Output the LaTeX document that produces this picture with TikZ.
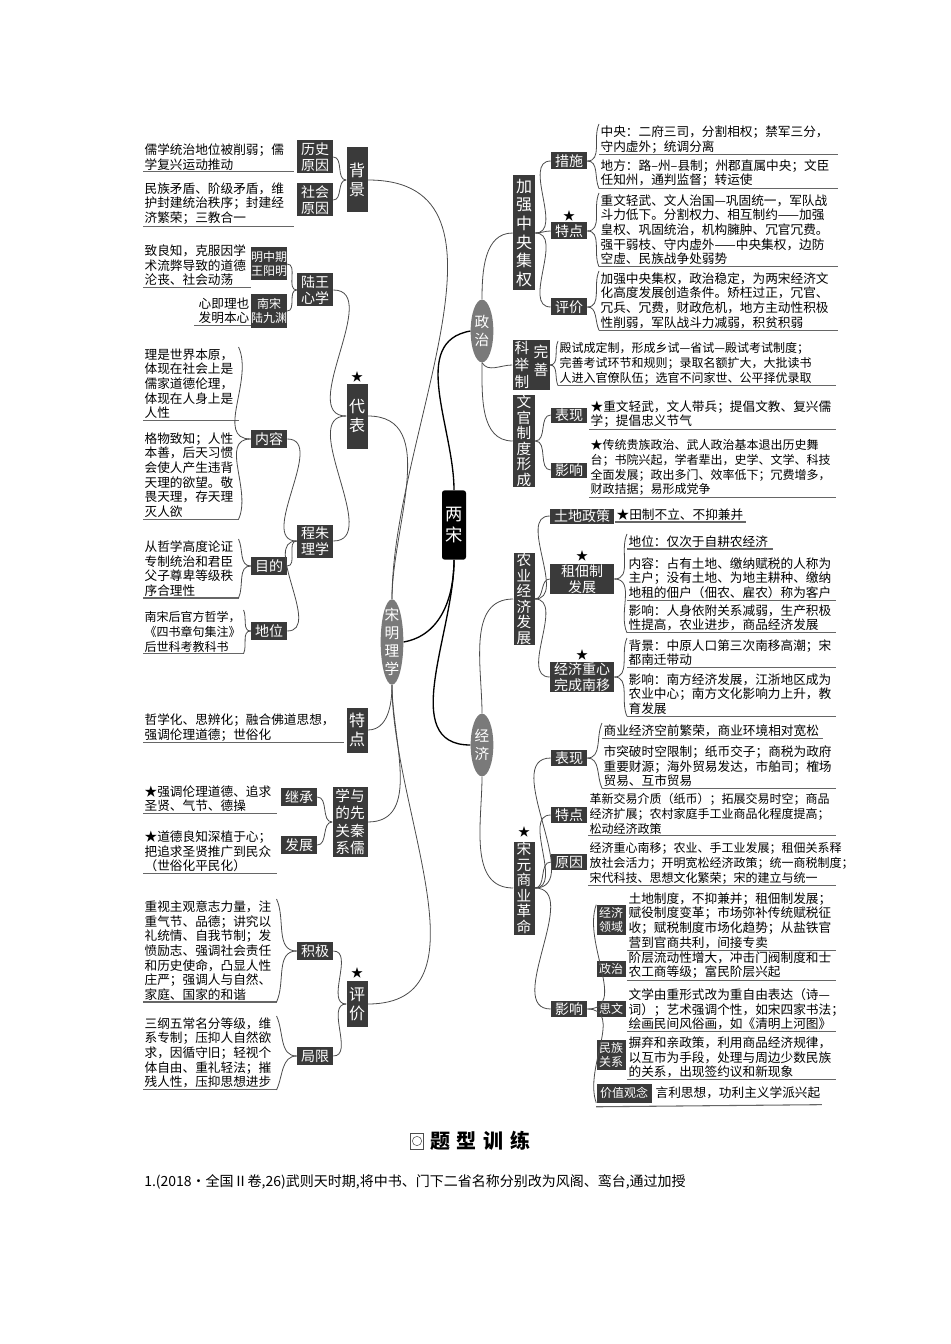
\documentclass[tikz,border=0pt]{standalone}
\usepackage{fontspec}
\usetikzlibrary{shapes.geometric}
\newfontfamily\cjk{Noto Sans CJK SC}
\newcommand\ft{\cjk\fontsize{9.5}{11}\selectfont}
\newcommand\fs{\cjk\fontsize{9}{11}\selectfont}
\newcommand\fb{\cjk\fontsize{10.5}{12}\selectfont}
\newcommand\fm{\cjk\fontsize{9}{10.5}\selectfont}
\newcommand\fv{\cjk\fontsize{12}{14}\selectfont}
\newcommand\fw{\cjk\fontsize{11}{11.6}\selectfont}
\definecolor{boxc}{HTML}{3A3A3A}
\definecolor{ovalc}{HTML}{7A7A7A}
\definecolor{linec}{HTML}{4A4A4A}
\tikzset{
  ulc/.style={draw=black!60, line width=0.8pt},
  ul/.style={append after command={(\tikzlastnode.south west) edge[ulc] (\tikzlastnode.south east)}},
  tx/.code={\pgfmathsetmacro\twd{#1*0.75-2}\edef\tmp{\noexpand\tikzset{text width=\twd pt}}\tmp
    \tikzset{font=\ft, align=left, inner sep=1pt, anchor=north west, ul}},
  db/.style={fill=boxc, text=white, inner sep=0pt, font=\fb, align=center},
  bs/.style 2 args={db, minimum width=#1*0.75pt, minimum height=#2*0.75pt},
  oval/.style={ellipse, fill=ovalc, inner sep=0pt},
  ovt/.style={text=white, font=\cjk\fontsize{11}{13.5}\selectfont, align=center, inner sep=0pt},
  conn/.style={draw=linec, line width=0.6pt},
  mconn/.style={draw=black, line width=1pt},
  star/.style={font=\cjk\fontsize{9}{9}\selectfont, inner sep=0pt}
}
\newcommand\cnr[2]{\draw[conn] (#1.east) to[out=0,in=180] (#2.west);}
\newcommand\cnl[2]{\draw[conn] (#1.west) to[out=180,in=0] (#2.east);}
\newcommand\rbr[3]{\draw[conn] (#1.east) to[out=0,in=-115] (#2.north west); \draw[conn] (#1.east) to[out=0,in=115] (#3.south west);}
\newcommand\lbr[3]{\draw[conn] (#1.west) to[out=180,in=-65] (#2.north east); \draw[conn] (#1.west) to[out=180,in=65] (#3.south east);}
\begin{document}
\begin{tikzpicture}[x=0.75pt,y=-0.75pt]
\path[fill=white] (0,0) rectangle (950,1344);
\useasboundingbox (0,0) rectangle (950,1344);
% ===== center =====
\node[fill=black, rounded corners=2pt, text=white, font=\cjk\fontsize{13}{16}\selectfont, align=center, minimum width=18pt, minimum height=52pt, inner sep=0pt] (ls) at (454,525) {两\\宋};
\node[oval, minimum width=17pt, minimum height=64pt] (sm) at (392,642) {};
\node[ovt] (smt) at (sm) {宋\\明\\理\\学};
\node[oval, minimum width=17pt, minimum height=47pt] (zz) at (482,331) {};
\node[ovt] (zzt) at (zz) {政\\治};
\node[oval, minimum width=17pt, minimum height=47pt] (jo) at (482,745) {};
\node[ovt] (jot) at (jo) {经\\济};
\draw[mconn] (ls.south) to[out=-90,in=10] (sm.east);
\draw[mconn] (ls.north) to[out=90,in=190] (zz.west);
\draw[mconn] (ls.south) to[out=-90,in=180] (jo.west);
% ===== left =====
\node[bs={21}{65}, font=\fv] (bj) at (357,180) {背\\景};
\node[bs={36}{33}] (lsyy) at (315,157) {历史\\原因};
\node[bs={36}{33}] (shyy) at (315,200) {社会\\原因};
\node[tx=150] (t1) at (143,142) {儒学统治地位被削弱；儒\\学复兴运动推动};
\node[tx=150] (t2) at (143,181) {民族矛盾、阶级矛盾，维\\护封建统治秩序；封建经\\济繁荣；三教合一};
\node[bs={36}{33}, font=\fm] (wym) at (269,264) {明中期\\王阳明};
\node[bs={36}{33}, font=\fm] (ljy) at (269,311) {南宋\\陆九渊};
\node[tx=107] (t3) at (143,243) {致良知，克服因学\\术流弊导致的道德\\沦丧、社会动荡};
\node[tx=56, align=right, anchor=north east] (t4) at (251,296) {心即理也\\发明本心};
\node[bs={36}{33}] (lw) at (315,290) {陆王\\心学};
\node[bs={21}{65}, font=\fv] (dbx) at (357,416) {代\\表};
\node[star] (s1) at (357,377) {★};
\node[bs={36}{18}] (nr) at (269,439) {内容};
\node[tx=95] (t5) at (143,347) {理是世界本原，\\体现在社会上是\\儒家道德伦理，\\体现在人身上是\\人性};
\node[tx=95] (t6) at (143,431) {格物致知；人性\\本善，后天习惯\\会使人产生违背\\天理的欲望。敬\\畏天理，存天理\\灭人欲};
\node[bs={36}{33}] (cz) at (315,541) {程朱\\理学};
\node[bs={36}{18}] (md) at (269,566) {目的};
\node[tx=95] (t7) at (143,539) {从哲学高度论证\\专制统治和君臣\\父子尊卑等级秩\\序合理性};
\node[bs={36}{18}] (dw) at (269,631) {地位};
\node[tx=100, font=\fs] (t8) at (143,610) {南宋后官方哲学，\\《四书章句集注》\\后世科考教科书};
\node[bs={21}{45}, font=\fv] (tdl) at (357,730) {特\\点};
\node[tx=200] (t9) at (143,712) {哲学化、思辨化；融合佛道思想，\\强调伦理道德；世俗化};
\node[bs={35}{70}, font=\cjk\fontsize{11}{13}\selectfont] (gx) at (350,822) {学与\\的先\\关秦\\系儒};
\node[bs={36}{18}] (jc) at (299,797) {继承};
\node[bs={36}{18}] (fz) at (299,845) {发展};
\node[tx=133] (t10) at (143,784) {★强调伦理道德、追求\\圣贤、气节、德操};
\node[tx=133] (t11) at (143,829) {★道德良知深植于心；\\把追求圣贤推广到民众\\（世俗化平民化）};
\node[bs={21}{46}, font=\fv] (pjl) at (357,1004) {评\\价};
\node[star] (s2) at (357,973) {★};
\node[bs={36}{18}] (jj) at (315,951) {积极};
\node[bs={36}{18}] (jx) at (315,1056) {局限};
\node[tx=133] (t12) at (143,899) {重视主观意志力量，注\\重气节、品德；讲究以\\礼统情、自我节制；发\\愤励志、强调社会责任\\和历史使命，凸显人性\\庄严；强调人与自然、\\家庭、国家的和谐};
\node[tx=133] (t13) at (143,1016) {三纲五常名分等级，维\\系专制；压抑人自然欲\\求，因循守旧；轻视个\\体自由、重礼轻法；摧\\残人性，压抑思想进步};
% left connectors
\draw[conn] (sm.north) to[out=90,in=0] (bj.east);
\draw[conn] (sm.north) to[out=90,in=0] (dbx.east);
\draw[conn] (sm.south) to[out=-90,in=0] (tdl.east);
\draw[conn] (sm.south) to[out=-90,in=0] (gx.east);
\draw[conn] (sm.south) to[out=-90,in=0] (pjl.east);
\cnl{bj}{lsyy} \cnl{bj}{shyy}
\cnl{dbx}{lw} \cnl{dbx}{cz}
\cnl{lw}{wym} \cnl{lw}{ljy}
\cnl{cz}{nr} \cnl{cz}{md} \cnl{cz}{dw}
\lbr{nr}{t5}{t6} \lbr{md}{t7}{t7} \lbr{dw}{t8}{t8}
\cnl{gx}{jc} \cnl{gx}{fz}
\cnl{pjl}{jj} \cnl{pjl}{jx}
\lbr{jj}{t12}{t12} \lbr{jx}{t13}{t13}
% ===== right: politics =====
\node[bs={22}{115}, font=\fv] (jq) at (524,233) {加\\强\\中\\央\\集\\权};
\node[bs={36}{17}] (cs) at (569,161) {措施};
\node[bs={36}{17}] (tdr) at (569,231) {特点};
\node[star] (s3) at (569,216) {★};
\node[bs={36}{17}] (pjr) at (569,307) {评价};
\node[tx=238] (r1) at (599,124) {中央：二府三司，分割相权；禁军三分，\\守内虚外；统调分离};
\node[tx=238] (r2) at (599,158) {地方：路–州–县制；州郡直属中央；文臣\\任知州，通判监督；转运使};
\node[tx=238] (r3) at (599,193) {重文轻武、文人治国—巩固统一，军队战\\斗力低下。分割权力、相互制约——加强\\皇权、巩固统治，机构臃肿、冗官冗费。\\强干弱枝、守内虚外——中央集权，边防\\空虚、民族战争处弱势};
\node[tx=238] (r4) at (599,271) {加强中央集权，政治稳定，为两宋经济文\\化高度发展创造条件。矫枉过正，冗官、\\冗兵、冗费，财政危机，地方主动性积极\\性削弱，军队战斗力减弱，积贫积弱};
\node[bs={37}{50}] (kj) at (531,365) {};
\node[font=\cjk\fontsize{11}{13}\selectfont, text=white, align=center, inner sep=0pt] (kj1) at (522,365) {科\\举\\制};
\node[font=\cjk\fontsize{11}{13}\selectfont, text=white, align=center, inner sep=0pt] (kj2) at (541,361) {完\\善};
\node[tx=277, font=\fs] (r5) at (558,341) {殿试成定制，形成乡试—省试—殿试考试制度；\\完善考试环节和规则；录取名额扩大，大批读书\\人进入官僚队伍；选官不问家世、公平择优录取};
\node[bs={22}{87}, font=\fw] (wg) at (524,441) {文\\官\\制\\度\\形\\成};
\node[bs={36}{15}] (bx) at (569,415) {表现};
\node[bs={36}{15}] (yx) at (569,470) {影响};
\node[tx=246] (r6) at (589,399) {★重文轻武，文人带兵；提倡文教、复兴儒\\学；提倡忠义节气};
\node[tx=246, font=\fs] (r7) at (589,438) {★传统贵族政治、武人政治基本退出历史舞\\台；书院兴起，学者辈出，史学、文学、科技\\全面发展；政出多门、效率低下；冗费增多，\\财政拮据；易形成党争};
\draw[conn] (zz.north) to[out=90,in=180] (jq.west);
\draw[conn] (zz.south) to[out=-60,in=180] (kj.west);
\draw[conn] (zz.south) to[out=-90,in=180] (wg.west);
\cnr{jq}{cs} \cnr{jq}{tdr} \cnr{jq}{pjr}
\rbr{cs}{r1}{r2} \rbr{tdr}{r3}{r3} \rbr{pjr}{r4}{r4}
\rbr{kj}{r5}{r5}
\cnr{wg}{bx} \cnr{wg}{yx}
% ===== right: economy =====
\node[bs={21}{92}, font=\fw] (ny) at (524,599) {农\\业\\经\\济\\发\\展};
\node[bs={64}{15}] (td) at (582,516) {土地政策};
\node[tx=130] (r8) at (615,507) {★田制不立、不抑兼并};
\node[bs={64}{30}] (zd) at (582,579) {租佃制\\发展};
\node[star] (s4) at (582,556) {★};
\node[tx=145] (r9) at (627,534) {地位：仅次于自耕农经济};
\node[tx=208] (r10) at (627,556) {内容：占有土地、缴纳赋税的人称为\\主户；没有土地、为地主耕种、缴纳\\地租的佃户（佃农、雇农）称为客户};
\node[tx=208] (r11) at (627,603) {影响：人身依附关系减弱，生产积极\\性提高，农业进步，商品经济发展};
\node[bs={64}{30}] (zx) at (582,677) {经济重心\\完成南移};
\node[star] (s5) at (582,655) {★};
\node[tx=208] (r12) at (627,638) {背景：中原人口第三次南移高潮；宋\\都南迁带动};
\node[tx=208] (r13) at (627,672) {影响：南方经济发展，江浙地区成为\\农业中心；南方文化影响力上升，教\\育发展};
\node[bs={21}{93}, font=\fw] (sy) at (524,888) {宋\\元\\商\\业\\革\\命};
\node[star] (s6) at (524,832) {★};
\node[bs={36}{16}] (bxj) at (569,758) {表现};
\node[tx=220] (r14) at (602,723) {商业经济空前繁荣，商业环境相对宽松};
\node[tx=233] (r15) at (602,744) {市突破时空限制；纸币交子；商税为政府\\重要财源；海外贸易发达，市舶司；榷场\\贸易、互市贸易};
\node[bs={36}{16}] (tdj) at (569,815) {特点};
\node[tx=247, font=\fs] (r16) at (588,792) {革新交易介质（纸币）；拓展交易时空；商品\\经济扩展；农村家庭手工业商品化程度提高；\\松动经济政策};
\node[bs={36}{16}] (yy) at (569,862) {原因};
\node[tx=247, font=\fs] (r17) at (588,841) {经济重心南移；农业、手工业发展；租佃关系释\\放社会活力；开明宽松经济政策；统一商税制度；\\宋代科技、思想文化繁荣；宋的建立与统一};
\node[bs={36}{16}] (yxj) at (569,1009) {影响};
\node[bs={29}{30}, font=\fm] (ly) at (611,920) {经济\\领域};
\node[bs={29}{16}, font=\fm] (zzs) at (611,969) {政治};
\node[bs={29}{16}, font=\fm] (sw) at (611,1009) {思文};
\node[bs={29}{30}, font=\fm] (mz) at (611,1055) {民族\\关系};
\node[bs={55}{19}, font=\fm] (jz) at (624,1093) {价值观念};
\node[tx=208] (r18) at (627,891) {土地制度，不抑兼并；租佃制发展；\\赋役制度变革；市场弥补传统赋税征\\收；赋税制度市场化趋势；从盐铁官\\营到官商共利，间接专卖};
\node[tx=208] (r19) at (627,950) {阶层流动性增大，冲击门阀制度和士\\农工商等级；富民阶层兴起};
\node[tx=208] (r20) at (627,987) {文学由重形式改为重自由表达（诗—\\词）；艺术强调个性，如宋四家书法；\\绘画民间风俗画，如《清明上河图》};
\node[tx=208] (r21) at (627,1035) {摒弃和亲政策，利用商品经济规律，\\以互市为手段，处理与周边少数民族\\的关系，出现签约议和新现象};
\node[font=\ft, inner sep=1pt, anchor=west] (r22) at (654,1093) {言利思想，功利主义学派兴起};
\draw[ulc] (jz.south west) ++(0,4) -- ([yshift=-3pt]r22.south east);
\draw[conn] (jo.north) to[out=90,in=180] (ny.west);
\draw[conn] (jo.south) to[out=-90,in=180] (sy.west);
\cnr{ny}{td} \cnr{ny}{zd} \cnr{ny}{zx}
\rbr{zd}{r9}{r11} \rbr{zx}{r12}{r13}
\cnr{sy}{bxj} \cnr{sy}{tdj} \cnr{sy}{yy} \cnr{sy}{yxj}
\rbr{bxj}{r14}{r15}
\draw[conn] (yxj.east) to[out=0,in=-110] (ly.north west);
\draw[conn] (yxj.east) to[out=0,in=110] (jz.south west);
% ===== bottom =====
\node[draw=black!70, line width=0.6pt, minimum width=10pt, minimum height=12pt, inner sep=0pt] (ic) at (417,1141) {};
\node[draw=black!70, circle, minimum size=7pt, inner sep=0pt] (icc) at (ic) {};
\node[font=\cjk\fontsize{15}{16}\selectfont\bfseries, inner sep=0pt, anchor=west] (title) at (430,1141) {题\hspace{5pt}型\hspace{5pt}训\hspace{5pt}练};
\node[font=\cjk\fontsize{10.5}{12}\selectfont, inner sep=0pt, anchor=west] (q1) at (144,1182) {1.(2018·全国Ⅱ卷,26)武则天时期,将中书、门下二省名称分别改为风阁、鸾台,通过加授};
\end{tikzpicture}
\end{document}
